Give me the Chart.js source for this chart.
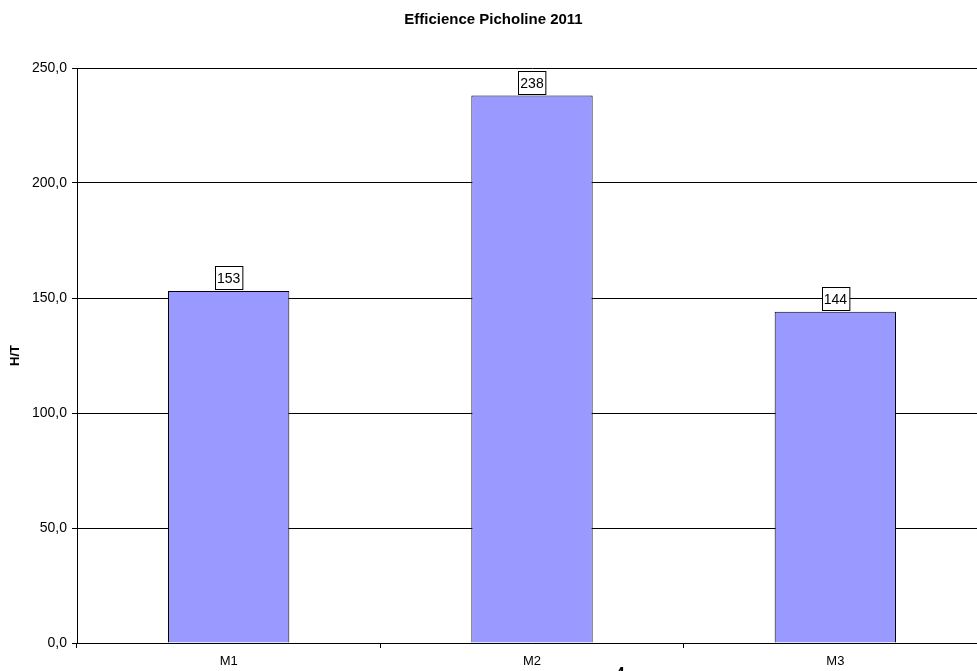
<!DOCTYPE html>
<html>
<head>
<meta charset="utf-8">
<script src="https://cdn.jsdelivr.net/npm/chart.js@4/dist/chart.umd.min.js"></script>
<style>
html,body{margin:0;padding:0;overflow:hidden;background:#fff;width:977px;height:671px;}
#wrap{width:1000px;height:671px;}
</style>
</head>
<body>
<div id="wrap"><canvas id="c" width="1000" height="671"></canvas></div>
<script>
const chartTitle = "Efficience Picholine 2011";
const yAxisTitle = "H/T";
const categories = ["M1", "M2", "M3"];
const values = [153, 238, 144];
const yTicks = [0, 50, 100, 150, 200, 250];
const fragmentText = ["4"];

const FONT = "'Liberation Sans', Arial, sans-serif";

const labelBoxes = {
  id: 'labelBoxes',
  afterDatasetsDraw(chart) {
    const ctx = chart.ctx;
    const meta = chart.getDatasetMeta(0);
    ctx.save();
    ctx.font = "14px " + FONT;
    ctx.textAlign = 'center';
    ctx.textBaseline = 'middle';
    meta.data.forEach((bar, i) => {
      const txt = String(Math.round(chart.data.datasets[0].data[i]));
      const w = ctx.measureText(txt).width + 4;
      const h = 23;
      const x = Math.round(bar.x - w / 2) + 0.5;
      const yb = Math.round(bar.y) - 2;
      const y = yb - h + 0.5;
      ctx.fillStyle = '#fff';
      ctx.fillRect(x, y, w, h);
      ctx.strokeStyle = '#000';
      ctx.lineWidth = 1;
      ctx.strokeRect(x, y, w, h);
      ctx.fillStyle = '#000';
      ctx.fillText(txt, bar.x, y + h / 2 + 1);
    });
    // clipped axis-title fragment at the bottom
    ctx.font = "bold 16px " + FONT;
    ctx.textAlign = 'center';
    ctx.textBaseline = 'top';
    const xa = chart.scales.x;
    ctx.fillText(fragmentText[0], xa.left + (xa.right - xa.left) * 0.597, 667);
    ctx.restore();
  }
};

new Chart(document.getElementById('c'), {
  type: 'bar',
  data: {
    labels: categories,
    datasets: [{
      data: values,
      backgroundColor: '#9999FF',
      borderColor: '#000',
      borderWidth: 1,
      categoryPercentage: 1.0,
      barPercentage: 0.4
    }]
  },
  options: {
    responsive: false,
    animation: false,
    devicePixelRatio: 1,
    layout: { padding: { left: 0, right: 13, top: 0, bottom: 0 } },
    plugins: {
      legend: { display: false },
      tooltip: { enabled: false },
      title: {
        display: true,
        text: chartTitle,
        color: '#000',
        font: { family: FONT, size: 15, weight: 'bold' },
        padding: { top: 11, bottom: 39 }
      }
    },
    scales: {
      x: {
        grid: { offset: true, drawOnChartArea: false, drawTicks: true, tickLength: 5, color: '#000' },
        border: { color: '#000', width: 1 },
        ticks: { color: '#000', font: { family: FONT, size: 13 }, padding: 6, maxRotation: 0 },
        afterFit: s => { s.height = 28; }
      },
      y: {
        min: 0, max: 250,
        afterBuildTicks: s => { s.ticks = yTicks.map(v => ({ value: v })); },
        grid: { color: '#000', lineWidth: 1, tickLength: 5 },
        border: { color: '#000', width: 1 },
        ticks: {
          color: '#000',
          font: { family: FONT, size: 14 },
          padding: 5,
          callback: v => Number(v).toFixed(1).replace('.', ',')
        },
        title: {
          display: true,
          text: yAxisTitle,
          color: '#000',
          font: { family: FONT, size: 13, weight: 'bold' },
          padding: { top: 8, bottom: 0 }
        },
        afterFit: s => { s.width = 77; }
      }
    }
  },
  plugins: [labelBoxes]
});
</script>
</body>
</html>
